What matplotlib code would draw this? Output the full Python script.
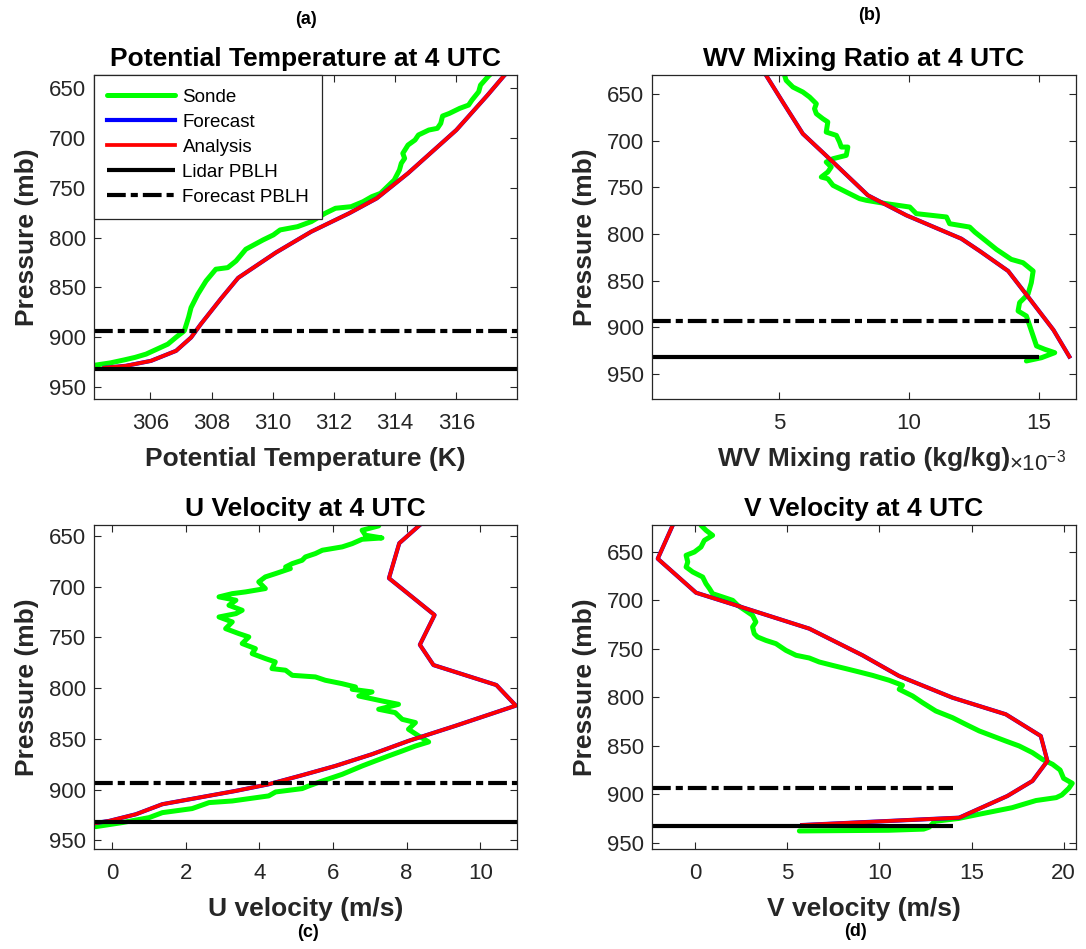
import numpy as np
import matplotlib
matplotlib.use("Agg")
import matplotlib.pyplot as plt

plt.rcParams['font.family'] = ['Liberation Sans', 'DejaVu Sans']

GRAY = '#262626'
DASHDOT = (0, (4.5, 1.2, 1.7, 1.2))

# PBL heights (mb)
fcst_pblh = 893.5
lidar_pblh = 932.5

# (a) potential temperature (K)
theta_sonde_p = [630, 637.5, 646.6, 653.3, 661.7, 666.7, 670.0, 675.1, 677.7, 685.1, 690.1,
                 691.8, 696.8, 701.8, 706.9, 715.3, 720.3, 725.3, 732.0, 742.1, 755.5, 758.8,
                 763.9, 768.9, 770.5, 775.6, 783.9, 789.0, 792.3, 797.3, 802.4, 811.7, 823.5,
                 830.2, 831.8, 843.6, 857.0, 870.4, 880.0, 893.8, 900.0, 907.2, 917.2, 920.5,
                 923.0, 926.0, 928.3]
theta_sonde = [317.3, 317.05, 316.79, 316.73, 316.51, 316.40, 316.11, 315.77, 315.55, 315.49,
               315.38, 315.10, 314.76, 314.65, 314.42, 314.25, 314.31, 314.20, 314.14, 313.97,
               313.52, 313.24, 312.95, 312.56, 312.05, 311.71, 311.26, 310.81, 310.24, 310.02,
               309.68, 309.12, 308.80, 308.53, 308.14, 307.82, 307.55, 307.33, 307.25, 307.11,
               306.85, 306.57, 305.86, 305.50, 305.15, 304.70, 304.20]
theta_anal_p = [632, 637.5, 656.7, 691.8, 735.3, 760.5, 775.5, 794.0, 815.1, 840.5, 860.9,
                887.0, 900.5, 913.9, 924.0, 929.0, 931.0]
theta_anal = [317.72, 317.55, 317.02, 316.00, 314.42, 313.40, 312.50, 311.26, 310.10, 308.87,
              308.32, 307.65, 307.33, 306.84, 306.02, 305.20, 304.50]

# (b) water vapour mixing ratio (kg/kg x 1e-3)
wv_sonde_p = [622, 629.6, 635.0, 642.2, 647.5, 652.9, 660.1, 665.4, 670.8, 676.2, 679.7, 690.5,
              694.1, 701.2, 706.6, 706.6, 715.5, 719.1, 722.7, 728.1, 733.4, 738.8, 740.6,
              747.7, 754.9, 762.0, 763.8, 767.4, 771.0, 778.1, 781.7, 788.9, 792.5, 797.9,
              805.0, 816.5, 827.2, 830.8, 839.7, 852.2, 864.7, 873.6, 882.6, 888.0, 898.7,
              909.5, 920.2, 923.8, 927.4, 932.8, 936.3]
wv_sonde = [5.10, 5.22, 5.28, 5.54, 5.92, 6.18, 6.44, 6.37, 6.44, 6.69, 6.88, 6.82, 7.21, 7.33,
            7.40, 7.65, 7.59, 7.08, 6.82, 7.01, 6.88, 6.63, 6.88, 7.08, 7.59, 8.10, 8.36, 9.13,
            10.03, 10.28, 11.44, 11.56, 12.33, 12.53, 12.85, 13.36, 13.93, 14.38, 14.77, 14.70,
            14.57, 14.25, 14.19, 14.51, 14.64, 14.77, 14.90, 15.22, 15.60, 15.09, 14.51]
wv_anal_p = [622, 629.6, 658.3, 692.3, 722.7, 758.4, 779.9, 805.0, 818.3, 839.7, 867.2, 903.0,
             931.6]
wv_anal = [4.33, 4.51, 5.15, 5.92, 7.08, 8.42, 9.90, 12.01, 12.72, 13.81, 14.57, 15.55, 16.16]

# (c) U velocity (m/s)
u_sonde_p = [634, 640.1, 644.4, 649.3, 652.0, 653.3, 657.6, 660.8, 664.1, 667.4, 670.7, 674.0,
             677.3, 680.6, 682.2, 687.1, 690.4, 695.3, 701.9, 705.2, 706.9, 710.1, 713.4,
             718.4, 723.3, 726.6, 729.9, 734.8, 741.4, 746.3, 749.6, 756.1, 761.1, 766.0,
             770.9, 774.2, 780.8, 782.4, 787.4, 789.0, 792.3, 795.6, 798.9, 801.2, 803.8,
             807.8, 812.7, 816.0, 820.9, 824.2, 830.8, 834.0, 840.6, 847.2, 853.1, 857.1,
             862.0, 866.9, 871.8, 876.8, 885.0, 891.6, 896.5, 899.1, 902.4, 906.3, 911.3,
             912.9, 918.8, 922.8, 927.7, 932.6, 936.6]
u_sonde = [7.30, 7.24, 6.79, 6.88, 7.33, 6.79, 6.52, 6.25, 5.71, 5.52, 5.25, 5.16, 4.89, 4.71,
           4.84, 4.44, 4.16, 3.98, 4.16, 3.62, 3.26, 2.90, 3.36, 3.17, 3.53, 3.36, 2.90, 3.26,
           3.08, 3.44, 3.71, 3.53, 3.89, 3.80, 4.16, 4.43, 4.34, 4.71, 4.89, 5.52, 5.79, 6.24,
           6.61, 6.52, 7.06, 6.70, 7.33, 7.78, 7.24, 7.69, 7.88, 8.24, 8.05, 8.33, 8.60, 8.24,
           7.88, 7.51, 7.15, 6.79, 6.25, 5.71, 5.34, 5.16, 4.44, 4.25, 3.26, 2.63, 2.17, 1.36,
           1.00, 0.27, -0.45]
u_anal_p = [632, 639.2, 657.2, 691.7, 728.0, 757.3, 777.3, 797.0, 817.3, 837.3, 852.1, 865.2,
            876.8, 885.9, 894.8, 901.4, 908.0, 914.5, 924.4, 931.0, 933.3]
u_anal = [8.60, 8.36, 7.80, 7.52, 8.76, 8.36, 8.73, 10.44, 10.97, 9.32, 8.05, 7.06, 6.06, 5.16,
          4.25, 3.35, 2.35, 1.36, 0.64, -0.09, -0.50]

# (d) V velocity (m/s)
v_sonde_p = [615, 622.5, 627.6, 632.8, 638.0, 644.8, 650.0, 653.4, 660.3, 665.5, 670.6, 675.8,
             682.7, 687.8, 693.0, 696.4, 699.9, 705.0, 715.4, 722.2, 727.4, 734.3, 737.7,
             741.2, 744.6, 751.5, 756.6, 759.4, 763.5, 767.0, 770.4, 773.8, 777.3, 782.4,
             787.6, 791.7, 798.6, 805.5, 814.1, 821.0, 827.9, 834.7, 839.9, 845.1, 850.2,
             857.1, 864.0, 869.1, 875.0, 883.6, 888.7, 893.9, 900.8, 903.5, 906.5, 913.9,
             920.7, 925.0, 928.0, 934.0, 936.0, 937.2, 937.9]
v_sonde = [0.20, 0.31, 0.58, 0.94, 0.49, 0.31, -0.05, -0.50, -0.41, -0.50, -0.14, 0.40, 0.58,
           0.77, 0.94, 1.48, 2.03, 2.30, 3.11, 3.29, 3.11, 3.20, 3.38, 3.83, 4.38, 4.92, 5.47,
           6.19, 6.73, 7.45, 8.18, 8.90, 9.62, 10.53, 11.25, 11.07, 11.80, 12.34, 13.06, 13.97,
           14.69, 15.42, 16.14, 16.86, 17.59, 18.31, 18.85, 19.40, 19.81, 20.00, 20.47, 20.28,
           19.90, 19.60, 18.50, 17.20, 15.40, 14.30, 13.00, 12.70, 12.40, 10.50, 5.65]
v_anal_p = [615, 622.5, 656.9, 692.0, 705.0, 729.1, 756.6, 778.0, 800.3, 817.5, 839.9, 865.7,
            886.3, 901.8, 924.2, 931.8]
v_anal = [-1.0, -1.23, -2.04, 0.04, 2.21, 6.19, 9.08, 11.07, 13.96, 16.86, 18.76, 19.12, 18.31,
          16.95, 14.33, 5.80]

panels = [
    dict(pos=[0.0869, 0.5792, 0.3891, 0.3414], sonde=(theta_sonde, theta_sonde_p),
         anal=(theta_anal, theta_anal_p), xlim=(304.17, 317.98), ylim=(962.7, 636.8),
         xticks=[306, 308, 310, 312, 314, 316], pblh_xmax=None,
         title='Potential Temperature at 4 UTC', xlabel='Potential Temperature (K)'),
    dict(pos=[0.6004, 0.5792, 0.3900, 0.3414], sonde=(wv_sonde, wv_sonde_p),
         anal=(wv_anal, wv_anal_p), xlim=(0.127, 16.40), ylim=(977.5, 629.6),
         xticks=[5, 10, 15], pblh_xmax=15.0,
         title='WV Mixing Ratio at 4 UTC', xlabel='WV Mixing ratio (kg/kg)'),
    dict(pos=[0.0866, 0.1051, 0.3891, 0.3414], sonde=(u_sonde, u_sonde_p),
         anal=(u_anal, u_anal_p), xlim=(-0.497, 10.99), ylim=(958.9, 639.5),
         xticks=[0, 2, 4, 6, 8, 10], pblh_xmax=None,
         title='U Velocity at 4 UTC', xlabel='U velocity (m/s)'),
    dict(pos=[0.6004, 0.1051, 0.3900, 0.3414], sonde=(v_sonde, v_sonde_p),
         anal=(v_anal, v_anal_p), xlim=(-2.35, 20.65), ylim=(956.8, 622.4),
         xticks=[0, 5, 10, 15, 20], pblh_xmax=14.0,
         title='V Velocity at 4 UTC', xlabel='V velocity (m/s)'),
]

fig = plt.figure(figsize=(10.86, 9.49), dpi=100)

for i, pn in enumerate(panels):
    ax = fig.add_axes(pn['pos'])
    x0, x1 = pn['xlim']
    xe = x1 if pn['pblh_xmax'] is None else pn['pblh_xmax']
    ax.plot(*pn['sonde'], color='#00ff00', lw=3.6, label='Sonde', solid_capstyle='round',
            solid_joinstyle='round')
    ax.plot(*pn['anal'], color='#0000ff', lw=3.0, label='Forecast')
    ax.plot(*pn['anal'], color='#ff0000', lw=2.7, label='Analysis')
    ax.plot([x0, xe], [lidar_pblh, lidar_pblh], color='black', lw=3.0, label='Lidar PBLH',
            solid_capstyle='butt')
    ax.plot([x0, xe], [fcst_pblh, fcst_pblh], color='black', lw=3.0, ls=DASHDOT,
            label='Forecast PBLH', dash_capstyle='butt')
    ax.set_xlim(x0, x1)
    ax.set_ylim(*pn['ylim'])
    ax.set_xticks(pn['xticks'])
    ax.set_yticks([650, 700, 750, 800, 850, 900, 950])
    ax.tick_params(direction='in', top=True, right=True, length=5, width=0.8,
                   colors=GRAY, labelsize=16)
    ax.tick_params(axis='x', pad=10)
    ax.tick_params(axis='y', pad=6)
    for s in ax.spines.values():
        s.set_color(GRAY)
        s.set_linewidth(0.9)
    ax.set_title(pn['title'], fontsize=19, fontweight='bold', pad=7)
    ax.set_xlabel(pn['xlabel'], fontsize=19, fontweight='bold', color=GRAY, labelpad=9)
    ax.set_ylabel('Pressure (mb)', fontsize=19, fontweight='bold', color=GRAY, labelpad=7)
    if i == 0:
        leg = ax.legend(loc='upper left', bbox_to_anchor=(0, 1), borderaxespad=0,
                        fontsize=13.5, handlelength=3.6, handletextpad=0.4, labelspacing=0.42,
                        borderpad=0.7, fancybox=False, framealpha=1, edgecolor=GRAY)
        leg.get_frame().set_linewidth(0.9)

fig.text(0.929, 0.513, r'$\mathregular{\times10^{-3}}$', fontsize=16, color=GRAY,
         ha='left', va='center')
fig.text(0.2818, 0.979, '(a)', fontsize=13, fontweight='bold', ha='center', va='center')
fig.text(0.801, 0.984, '(b)', fontsize=13, fontweight='bold', ha='center', va='center')
fig.text(0.2836, 0.017, '(c)', fontsize=13, fontweight='bold', ha='center', va='center')
fig.text(0.788, 0.018, '(d)', fontsize=13, fontweight='bold', ha='center', va='center')

fig.savefig('out.png', dpi=100)
